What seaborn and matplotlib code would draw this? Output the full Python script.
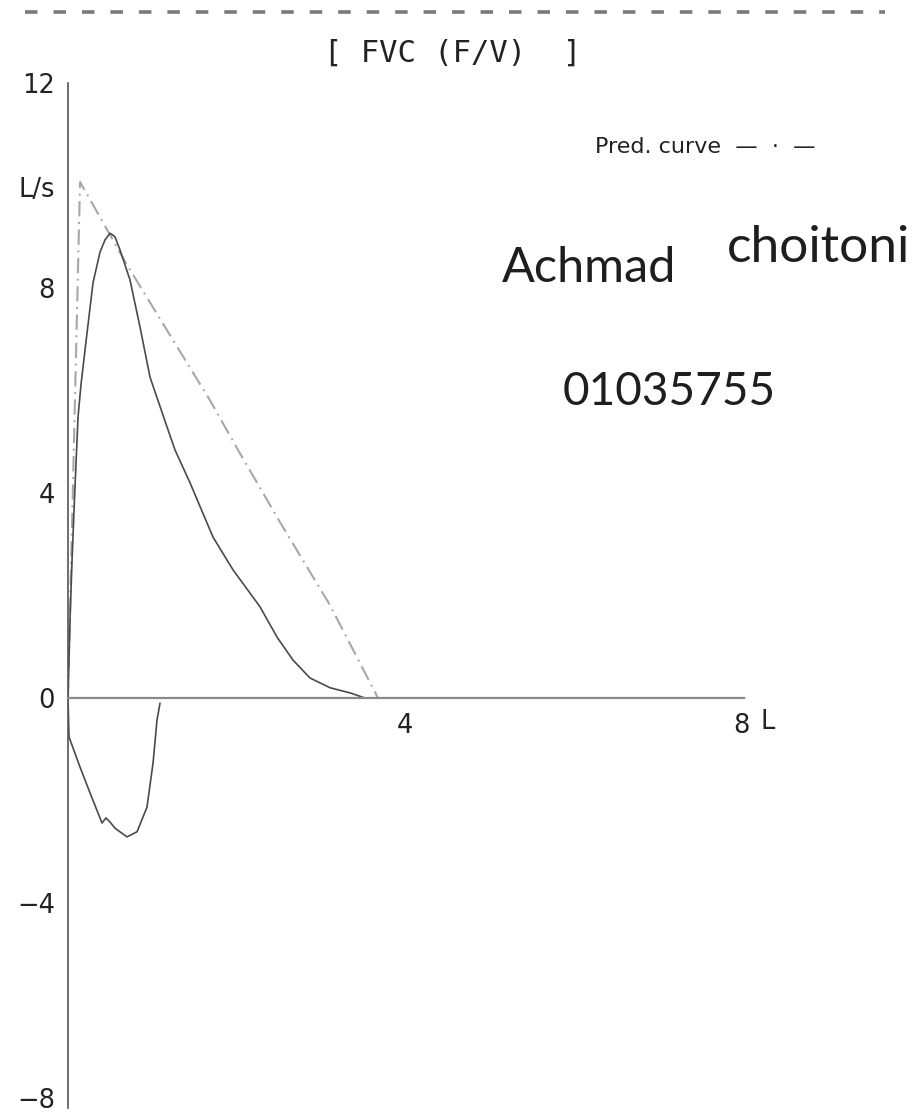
import matplotlib
matplotlib.use("Agg")
import matplotlib.pyplot as plt
from matplotlib.lines import Line2D
import seaborn as sns
import pandas as pd

# ---- data ----
exp_volume = [0, 0.024, 0.048, 0.083, 0.119, 0.154, 0.202, 0.297, 0.380, 0.440,
              0.499, 0.558, 0.618, 0.736, 0.855, 0.974, 1.176, 1.271, 1.449,
              1.722, 1.960, 2.280, 2.482, 2.672, 2.874, 3.112, 3.349, 3.527]
exp_flow = [0, 1.52, 2.69, 4.12, 5.48, 6.11, 6.79, 8.10, 8.70, 8.94,
            9.07, 9.00, 8.74, 8.16, 7.24, 6.26, 5.29, 4.84, 4.20,
            3.14, 2.50, 1.78, 1.19, 0.74, 0.39, 0.20, 0.10, 0.0]

insp_volume = [0, 0.012, 0.143, 0.261, 0.404, 0.451, 0.499, 0.558, 0.701,
               0.820, 0.938, 1.010, 1.057, 1.093]
insp_flow = [0, -0.76, -1.35, -1.85, -2.44, -2.34, -2.42, -2.54, -2.71,
             -2.61, -2.13, -1.27, -0.43, -0.10]

pred_volume = [0, 0.143, 0.701, 1.211, 1.686, 2.019, 2.518, 3.112, 3.682]
pred_flow = [0, 10.07, 8.45, 7.08, 5.81, 4.84, 3.43, 1.81, 0]

y_ticks = [-8, -4, 0, 4, 8, 12]
y_tick_labels = ["\u22128", "\u22124", "0", "4", "8", "12"]
x_ticks = [4, 8]
x_tick_labels = ["4", "8"]

title_text = "[ FVC (F/V)  ]"
legend_text = "Pred. curve  \u2014  \u00b7  \u2014"
name_first = "Achmad"
name_last = "choitoni"
patient_id = "01035755"

# ---- style ----
sns.set_theme(style="white")
plt.rcParams["font.family"] = ["DejaVu Sans"]
plt.rcParams["lines.scale_dashes"] = False

W, H = 913, 1116
fig = plt.figure(figsize=(W / 100, H / 100), dpi=100)
fig.patch.set_facecolor("white")
ax = fig.add_axes([68 / W, 8 / H, 842 / W, 1025 / H])
ax.set_facecolor("white")

df_exp = pd.DataFrame({"volume": exp_volume, "flow": exp_flow})
df_insp = pd.DataFrame({"volume": insp_volume, "flow": insp_flow})
df_pred = pd.DataFrame({"volume": pred_volume, "flow": pred_flow})

sns.lineplot(data=df_pred, x="volume", y="flow", sort=False, estimator=None,
             ax=ax, color="#a8a8a8", lw=1.5)
ax.lines[-1].set_dashes((11, 4, 1.4, 4))
sns.lineplot(data=df_exp, x="volume", y="flow", sort=False, estimator=None,
             ax=ax, color="#4a4a4a", lw=1.2)
sns.lineplot(data=df_insp, x="volume", y="flow", sort=False, estimator=None,
             ax=ax, color="#4a4a4a", lw=1.2)
for ln in ax.lines:
    ln.set_solid_joinstyle("round")

ax.set_xlim(0, 10)
ax.set_ylim(-8, 12)
ax.set_xlabel("")
ax.set_ylabel("")

for s in ["top", "right"]:
    ax.spines[s].set_visible(False)
ax.spines["left"].set_color("#555555")
ax.spines["left"].set_linewidth(1.2)
ax.spines["bottom"].set_position(("data", 0))
ax.spines["bottom"].set_bounds(0, 8.04)
ax.spines["bottom"].set_color("#8a8a8a")
ax.spines["bottom"].set_linewidth(1.6)
ax.spines["bottom"].set_linestyle((0, (5, 1.6)))

ax.set_yticks(y_ticks)
ax.set_yticklabels(y_tick_labels)
ax.set_xticks(x_ticks)
ax.set_xticklabels(x_tick_labels)
ax.tick_params(axis="y", length=0, pad=9.5, labelsize=18.5, labelcolor="#222222")
ax.tick_params(axis="x", length=0, pad=11, labelsize=18.5, labelcolor="#222222")
ax.grid(False)
# sit the lowest label on its tick so it stays inside the page
for tick in ax.yaxis.get_major_ticks():
    if abs(tick.get_loc() - y_ticks[0]) < 1e-9:
        tick.label1.set_verticalalignment("baseline")

# unit labels
ax.text(8.31, -0.47, "L", fontsize=18.5, color="#222222", ha="center", va="center")
ax.annotate("L/s", xy=(0, 9.91), xytext=(-9.5, 0), textcoords="offset points",
            ha="right", va="center", fontsize=18.5, color="#222222")

# title
ax.set_title(title_text, fontsize=22, family="DejaVu Sans Mono", color="#222222",
             x=(453 - 68) / 842, pad=15)

# dashed rule at top
fig.add_artist(Line2D([25 / W, 885 / W], [1 - 12 / H, 1 - 12 / H],
                      transform=fig.transFigure, color="#7a7a7a", lw=2.6,
                      dashes=(9, 11.5)))

# legend text
ax.text(6.26, 10.75, legend_text, fontsize=16, color="#222222",
        ha="left", va="center")

# handwritten annotations
hand_font = ["Lato", "Liberation Sans", "DejaVu Sans"]
ax.text(5.15, 8.39, name_first, fontsize=35, family=hand_font, weight="normal",
        color="#1e1e1e", ha="left", va="center")
ax.text(7.83, 8.78, name_last, fontsize=37, family=hand_font, weight="normal",
        color="#1e1e1e", ha="left", va="center")
ax.text(5.88, 5.97, patient_id, fontsize=33, family=hand_font, weight="normal",
        color="#1e1e1e", ha="left", va="center")

fig.savefig("out.png", dpi=100, facecolor="white")
